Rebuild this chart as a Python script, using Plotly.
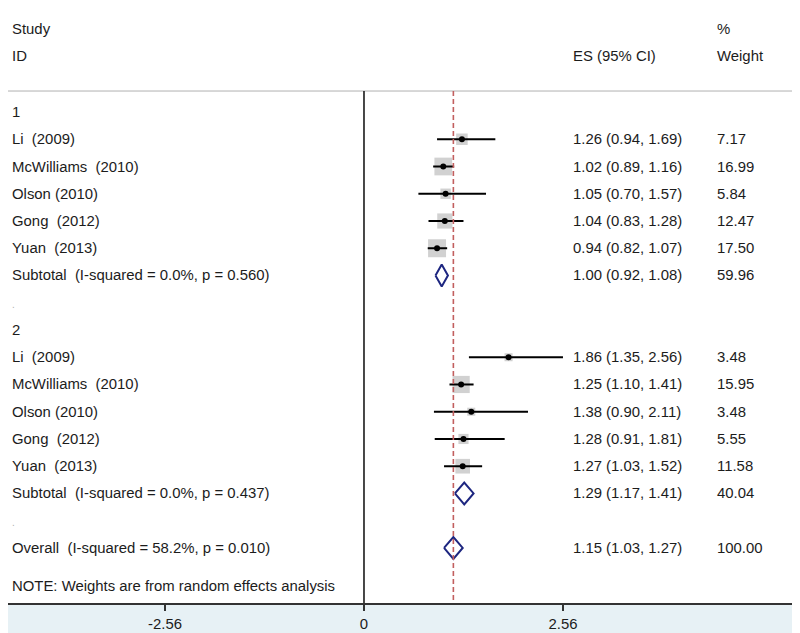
import plotly.graph_objects as go

# ---------------- data ----------------
study_labels = ["Li\u00a0 (2009)", "McWilliams\u00a0 (2010)", "Olson (2010)", "Gong\u00a0 (2012)", "Yuan\u00a0 (2013)"]

g1_es = [1.26, 1.02, 1.05, 1.04, 0.94]
g1_lo = [0.94, 0.89, 0.70, 0.83, 0.82]
g1_hi = [1.69, 1.16, 1.57, 1.28, 1.07]
g1_w = [7.17, 16.99, 5.84, 12.47, 17.50]

g2_es = [1.86, 1.25, 1.38, 1.28, 1.27]
g2_lo = [1.35, 1.10, 0.90, 0.91, 1.03]
g2_hi = [2.56, 1.41, 2.11, 1.81, 1.52]
g2_w = [3.48, 15.95, 3.48, 5.55, 11.58]

pooled_labels = ["Subtotal\u00a0 (I-squared = 0.0%, p = 0.560)",
                 "Subtotal\u00a0 (I-squared = 0.0%, p = 0.437)",
                 "Overall\u00a0 (I-squared = 58.2%, p = 0.010)"]
pooled_es = [1.00, 1.29, 1.15]
pooled_lo = [0.92, 1.17, 1.03]
pooled_hi = [1.08, 1.41, 1.27]
pooled_w = [59.96, 40.04, 100.00]

group_names = ["1", "2"]
tick_vals = [-2.56, 0, 2.56]
tick_text = ["-2.56", "0", "2.56"]
overall_line = 1.15

# ---------------- layout of rows ----------------
g1_rows = [1, 2, 3, 4, 5]
g2_rows = [9, 10, 11, 12, 13]
pooled_rows = [6, 14, 16]
group_rows = [0, 8]
dot_rows = [7, 15]

FONT = "Arial, 'Liberation Sans', sans-serif"
TXT = "#1c1c1c"
FS = 14.9

es_all = g1_es + g2_es
lo_all = g1_lo + g2_lo
hi_all = g1_hi + g2_hi
w_all = g1_w + g2_w
rows_all = g1_rows + g2_rows

fig = go.Figure()

# CI lines
cx, cy = [], []
for lo, hi, r in zip(lo_all, hi_all, rows_all):
    cx += [lo, hi, None]
    cy += [r, r, None]

# weight squares
fig.add_trace(go.Scatter(x=es_all, y=rows_all, mode="markers",
                         marker=dict(symbol="square", color="#bdbdbd",
                                     size=[4.3 * w ** 0.5 for w in w_all],
                                     line=dict(width=0)),
                         hoverinfo="skip"))
fig.add_trace(go.Scatter(x=cx, y=cy, mode="lines",
                         line=dict(color="black", width=2), hoverinfo="skip"))
# point estimates
fig.add_trace(go.Scatter(x=es_all, y=rows_all, mode="markers",
                         marker=dict(symbol="circle", color="black", size=6),
                         hoverinfo="skip"))

# diamonds
dx, dy = [], []
h = 0.4
for es, lo, hi, r in zip(pooled_es, pooled_lo, pooled_hi, pooled_rows):
    dx += [lo, es, hi, es, lo, None]
    dy += [r, r - h, r, r + h, r, None]
fig.add_trace(go.Scatter(x=dx, y=dy, mode="lines",
                         line=dict(color="#1d2680", width=2), hoverinfo="skip"))

Y_TOP, Y_BOT = -3.817, 18.02
HDR = -0.77

shapes = [
    dict(type="line", xref="paper", yref="y", x0=0, x1=1, y0=HDR, y1=HDR,
         line=dict(color="#b0b0b0", width=1)),
    dict(type="line", xref="x", yref="y", x0=0, x1=0, y0=HDR, y1=Y_BOT,
         line=dict(color="#1a1a1a", width=1.6)),
    dict(type="line", xref="x", yref="y", x0=overall_line, x1=overall_line, y0=HDR, y1=Y_BOT,
         line=dict(color="#c25f5f", width=1.6, dash="5px,3px")),
]

ann = []
def txt(x, y, s, color=TXT, size=FS):
    ann.append(dict(x=x, y=y, xref="paper", yref="y", text=s, showarrow=False,
                    xanchor="left", yanchor="middle",
                    font=dict(family=FONT, size=size, color=color)))

LX, ESX, WX = 0.0025, 0.7133, 0.8958
txt(LX, -3.05, "Study")
txt(LX, -2.05, "ID")
txt(ESX, -2.05, "ES (95% CI)")
txt(WX, -3.05, "%")
txt(WX, -2.05, "Weight")

for g, r in zip(group_names, group_rows):
    txt(LX, r, g)
for r in dot_rows:
    txt(LX, r + 0.05, ".", color="#b0b0b0", size=10)

for lab, r in zip(study_labels * 2, rows_all):
    txt(LX, r, lab)
for es, lo, hi, w, r in zip(es_all, lo_all, hi_all, w_all, rows_all):
    txt(ESX, r, f"{es:.2f} ({lo:.2f}, {hi:.2f})")
    txt(WX, r, f"{w:.2f}")

for lab, es, lo, hi, w, r in zip(pooled_labels, pooled_es, pooled_lo, pooled_hi, pooled_w, pooled_rows):
    txt(LX, r, lab)
    txt(ESX, r, f"{es:.2f} ({lo:.2f}, {hi:.2f})")
    txt(WX, r, f"{w:.2f}")

txt(LX, 17.39, "NOTE: Weights are from random effects analysis")

# the page body has an 8px margin, so the figure is 8px smaller than the window
fig.update_layout(
    width=792, height=625,
    margin=dict(l=0, r=3, t=0, b=30),
    paper_bgcolor="#e7f1f5",
    plot_bgcolor="white",
    showlegend=False,
    hovermode=False,
    shapes=shapes,
    annotations=ann,
    xaxis=dict(range=[-4.580, 5.571], tickvals=tick_vals, ticktext=tick_text,
               showgrid=False, zeroline=False, showline=True,
               linecolor="#333333", linewidth=2,
               ticks="outside", ticklen=6, tickwidth=1.5, tickcolor="#333333",
               tickfont=dict(family=FONT, size=FS, color=TXT), fixedrange=True),
    yaxis=dict(range=[Y_BOT, Y_TOP], visible=False, showgrid=False,
               zeroline=False, fixedrange=True),
)

fig.write_html("out.html")
